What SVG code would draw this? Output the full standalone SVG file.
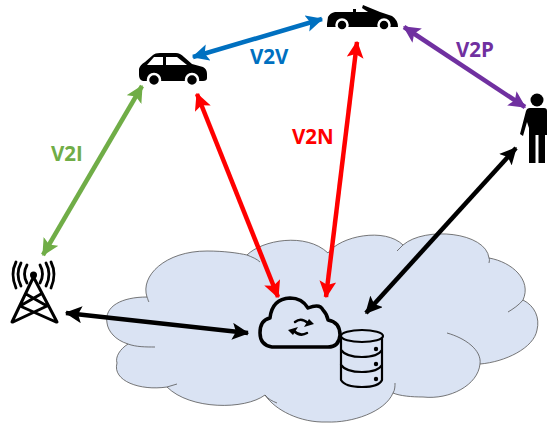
<svg xmlns="http://www.w3.org/2000/svg" width="547" height="424" viewBox="0 0 547 424">
<style>
.lab{font-family:"Open Sans","Liberation Sans",sans-serif;font-weight:700;font-size:20.500px}
.cl{fill:#DAE3F3;stroke:#555;stroke-width:.8}
.in{fill:none;stroke:#555;stroke-width:.8}
.ar{fill:none;stroke-width:4.500}
.ln{fill:none;stroke:#000;stroke-linecap:round;stroke-linejoin:round}
</style>
<defs>
<marker id="mG" viewBox="0 0 14 14" refX="13" refY="7" markerUnits="userSpaceOnUse" markerWidth="17" markerHeight="17" orient="auto-start-reverse"><path d="M0 0L14 7L0 14L3 7Z" fill="#70AD47"/></marker>
<marker id="mB" viewBox="0 0 14 14" refX="13" refY="7" markerUnits="userSpaceOnUse" markerWidth="17" markerHeight="17" orient="auto-start-reverse"><path d="M0 0L14 7L0 14L3 7Z" fill="#0070C0"/></marker>
<marker id="mR" viewBox="0 0 14 14" refX="13" refY="7" markerUnits="userSpaceOnUse" markerWidth="17" markerHeight="17" orient="auto-start-reverse"><path d="M0 0L14 7L0 14L3 7Z" fill="#F00"/></marker>
<marker id="mP" viewBox="0 0 14 14" refX="13" refY="7" markerUnits="userSpaceOnUse" markerWidth="17" markerHeight="17" orient="auto-start-reverse"><path d="M0 0L14 7L0 14L3 7Z" fill="#7030A0"/></marker>
<marker id="mK" viewBox="0 0 14 14" refX="13" refY="7" markerUnits="userSpaceOnUse" markerWidth="17" markerHeight="17" orient="auto-start-reverse"><path d="M0 0L14 7L0 14L3 7Z" fill="#000"/></marker>
</defs>
<g id="network-cloud">
<path class="cl" d="M107 323C104 306 122 297 147 297C140 276 165 251 207 251C224 251 238 253 247 255C262 240 306 232 328 253C340 236 385 227 403 245C425 226 486 232 489 258C512 262 532 280 523 300C535 306 540 318 537 330C534 348 505 362 480 364C478 385 450 400 423 397C412 397 400 396 393 393C385 412 352 423 327 422C300 423 275 410 265 395C245 410 190 410 167 387C140 391 112 381 117 363C115 357 120 349 128 344C115 340 108 331 107 323Z"/>
<path class="in" d="M147 297C148 299 148 301 149 302M128 344C136 347 146 347 155 347M167 387C170 386 174 385 177 384M265 395C268 399 272 401 277 403M393 393C395 390 395 386 395 383M480 364C482 350 465 338 447 333M523 300C519 305 513 309 508 312M489 258C490 260 489 262 489 263M403 245C401 247 399 249 397 251M247 255C252 257 257 259 260 262"/>
</g>
<g id="connectors">
<path class="ar" stroke="#70AD47" marker-start="url(#mG)" marker-end="url(#mG)" d="M43 255L142 86"/>
<path class="ar" stroke="#0070C0" marker-start="url(#mB)" marker-end="url(#mB)" d="M193 57L322 19"/>
<path class="ar" stroke="#F00" marker-start="url(#mR)" marker-end="url(#mR)" d="M197 94L278 297"/>
<path class="ar" stroke="#F00" marker-start="url(#mR)" marker-end="url(#mR)" d="M326 297L357 42"/>
<path class="ar" stroke="#7030A0" marker-start="url(#mP)" marker-end="url(#mP)" d="M404 27L525 107"/>
<path class="ar" stroke="#000" marker-start="url(#mK)" marker-end="url(#mK)" d="M366 313L516 148"/>
<path class="ar" stroke="#000" marker-start="url(#mK)" marker-end="url(#mK)" d="M66 313L248 333"/>
</g>
<g id="car">
<path d="M139 75L139 69Q140 65 145 62L153 55Q155 53 160 53L176 53Q180 53 184 57L192 64L203 67Q207 69 207 74L207 78Q207 81 203 81L143 81Q139 80 139 75Z"/>
<path fill="#fff" d="M147 65L154 57L163 57L163 65ZM166 57L177 57L187 65L166 65Z"/>
<circle cx="154" cy="80" r="6" fill="#000" stroke="#fff" stroke-width="2.500"/>
<circle cx="192" cy="80" r="6" fill="#000" stroke="#fff" stroke-width="2.500"/>
</g>
<g id="convertible">
<path d="M327 24L328 17Q330 13 335 12L353 12L353 9L356 9L356 12L368 12L362 8L363 5L380 12L392 16Q398 20 398 27L327 27Z"/>
<circle cx="342" cy="25" r="5.500" fill="#000" stroke="#fff" stroke-width="2.500"/>
<circle cx="384" cy="25" r="5.500" fill="#000" stroke="#fff" stroke-width="2.500"/>
</g>
<g id="person">
<circle cx="537" cy="100" r="6.500"/>
<path d="M530 108L544 108Q547 108 547 111L547 135L545 135L545 163L538.500 163L538.500 135L535.500 135L535.500 163L529 163L529 128L527 122L523 136L520 134L526 111Q527 108 530 108Z"/>
</g>
<g id="tower">
<circle cx="33.500" cy="275" r="3.500"/>
<path class="ln" stroke-width="3" d="M33 278L12 322M34 278L57 322M26 294L47 306M41 294L20 306M20 306L56 322M47 306L13 322"/>
<path class="ln" stroke-width="2.800" d="M27 265Q22 274 27 283M40 265Q45 274 40 283M21 263Q15 274 21 286M46 263Q52 274 46 286M16 262Q10 274 16 288M51 262Q57 274 51 288"/>
</g>
<g id="cloud-service">
<path class="ln" stroke-width="3.500" d="M272 347Q260 345 260 333Q260 320 270 318Q272 299 290 298Q302 298 308 308Q320 303 323 310Q327 314 328 320Q340 322 340 335Q339 347 328 347Z"/>
<path class="ln" stroke-width="2.500" d="M295 322Q301 317 308 323M307 333Q300 337 294 331"/>
<path d="M304 327L314 324L309 319ZM298 327L288 330L293 335Z"/>
</g>
<g id="database">
<path class="ln" stroke-width="2.200" fill="#DAE3F3" d="M341 336L341 380Q345 387 362 387Q379 387 382 380L382 336"/>
<ellipse cx="362" cy="336" rx="21" ry="6" fill="#DAE3F3" stroke="#000" stroke-width="2.200"/>
<path class="ln" stroke-width="2.200" d="M341 350Q346 357 362 357Q378 357 382 350M341 365Q346 372 362 372Q378 372 382 365"/>
<circle cx="376" cy="349" r="2.200"/><circle cx="376" cy="364" r="2.200"/><circle cx="376" cy="379" r="2.200"/>
</g>
<text class="lab" x="51" y="161" fill="#70AD47">V2I</text>
<text class="lab" x="250" y="64" fill="#0070C0">V2V</text>
<text class="lab" x="292" y="144" fill="#F00">V2N</text>
<text class="lab" x="456" y="57" fill="#7030A0">V2P</text>
</svg>
